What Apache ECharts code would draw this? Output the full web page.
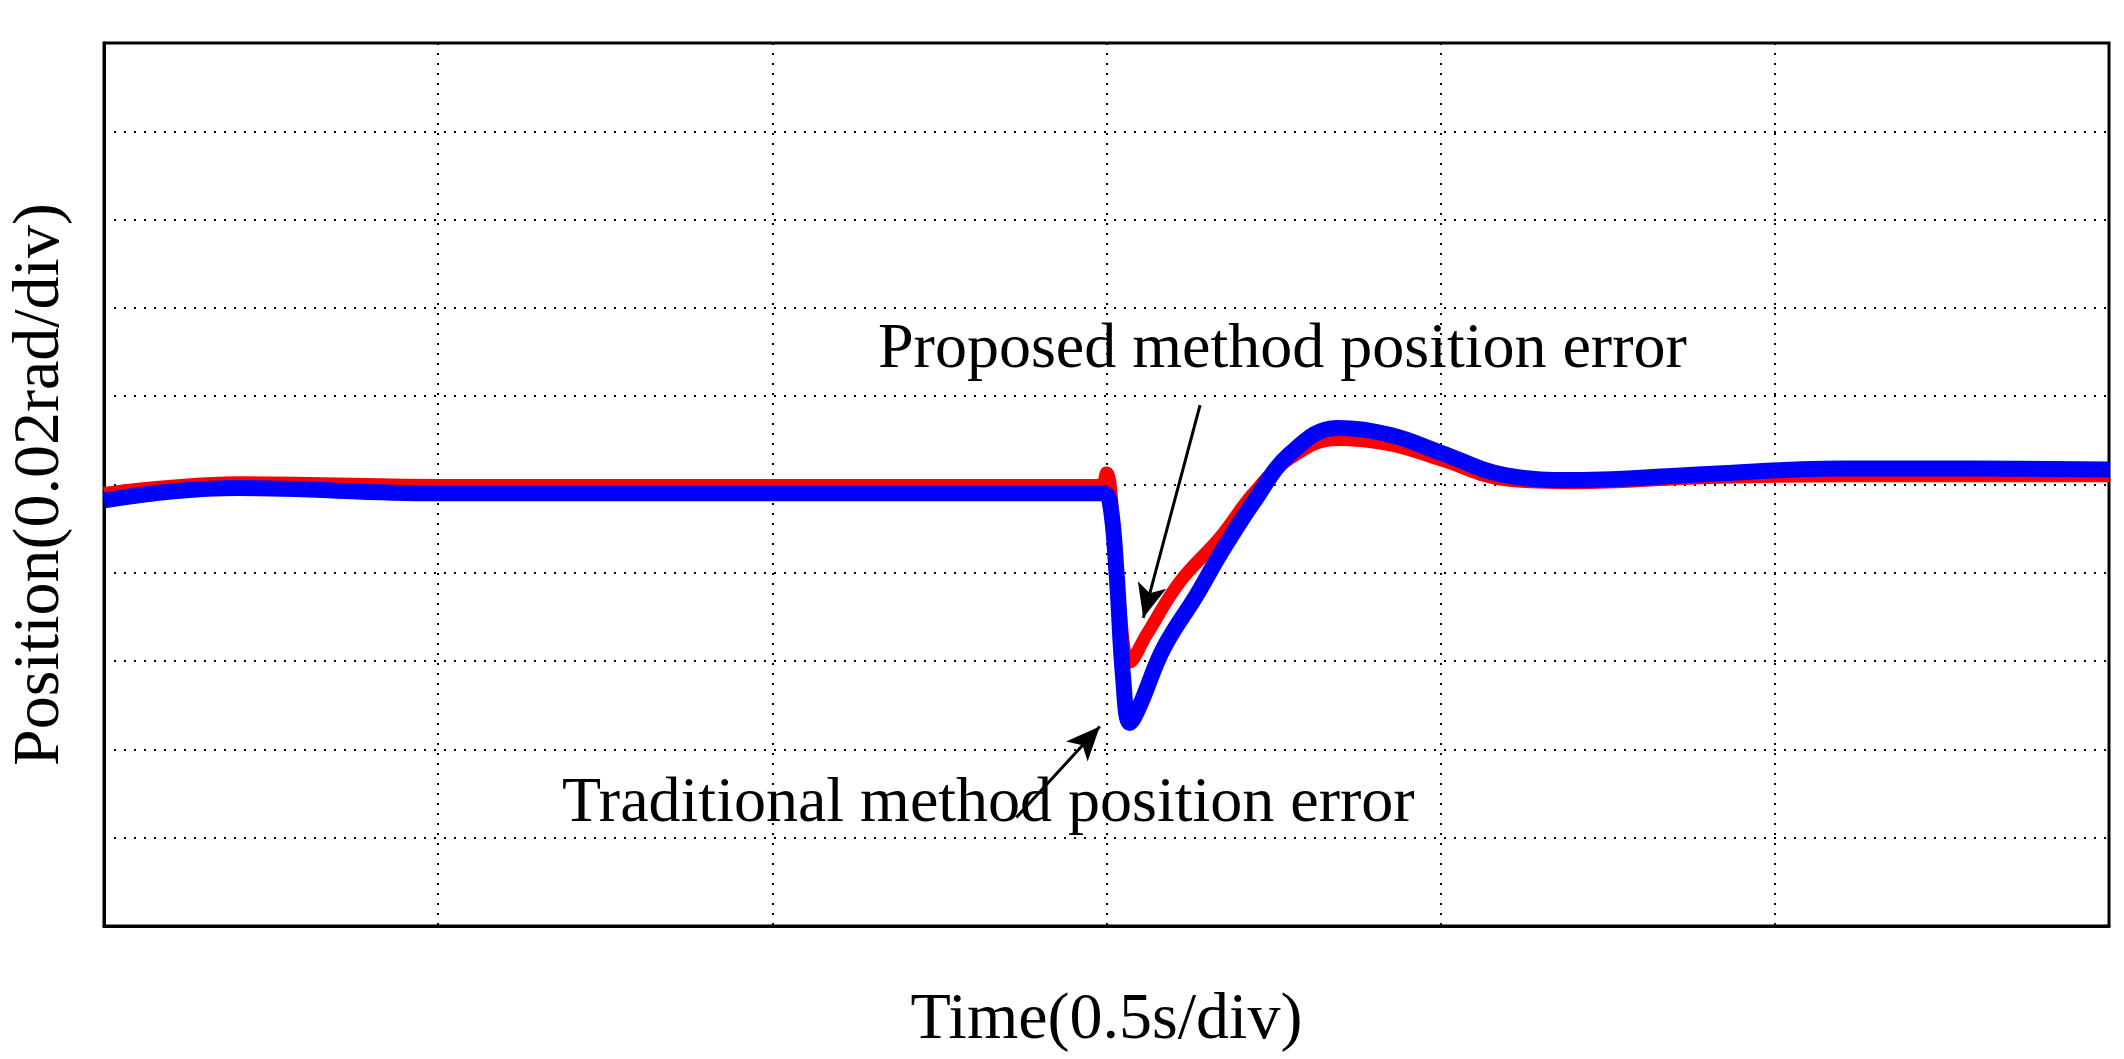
<!DOCTYPE html>
<html>
<head>
<meta charset="utf-8">
<script src="https://cdn.jsdelivr.net/npm/echarts@6/dist/echarts.min.js"></script>
<style>html,body{margin:0;padding:0;background:#fff}#main{width:2124px;height:1059px}</style>
</head>
<body>
<div id="main"></div>
<script>
// x in time divisions (0.5 s/div), y in position divisions (0.02 rad/div)
var redX = [0, 0.2, 0.4, 1.0, 2.0, 2.98, 3.0, 3.02, 3.04, 3.07, 3.12, 3.22, 3.34, 3.44, 3.55, 3.69, 3.85, 4.0, 4.2, 4.4, 4.8, 5.2, 5.6, 6.0];
var redY = [4.9, 4.98, 5.02, 4.99, 4.99, 4.99, 5.13, 4.6, 3.6, 2.99, 3.3, 3.9, 4.4, 4.9, 5.3, 5.51, 5.45, 5.28, 5.05, 5.02, 5.08, 5.1, 5.1, 5.1];
var blueX = [0, 0.2, 0.4, 1.0, 2.0, 2.99, 3.01, 3.03, 3.05, 3.07, 3.1, 3.17, 3.27, 3.34, 3.44, 3.55, 3.69, 3.85, 4.0, 4.2, 4.4, 4.8, 5.2, 5.6, 6.0];
var blueY = [4.82, 4.92, 4.96, 4.9, 4.9, 4.9, 4.8, 4.0, 2.8, 2.3, 2.5, 3.14, 3.75, 4.21, 4.8, 5.35, 5.64, 5.56, 5.36, 5.1, 5.05, 5.12, 5.18, 5.18, 5.17];
var proposedArrow = [[3.28, 5.9], [3.11, 3.49]];
var traditionalArrow = [[2.73, 1.23], [2.98, 2.26]];

function pairs(xs, ys) { return xs.map(function (x, i) { return [x, ys[i]]; }); }

var chart = echarts.init(document.getElementById('main'));
var font = '"Liberation Serif", "Times New Roman", serif';
var axisCommon = {
  type: 'value', axisTick: {show: false}, axisLabel: {show: false},
  axisLine: {show: true, lineStyle: {color: '#000', width: 3}},
  splitLine: {show: true, lineStyle: {color: '#000', type: [2, 8], width: 2}},
  nameLocation: 'middle',
  nameTextStyle: {fontFamily: font, fontSize: 66, color: '#000'}
};
function arrow(c) {
  return {
    silent: true, symbol: ['none', 'arrow'], symbolSize: [22, 34],
    lineStyle: {color: '#000', width: 3, type: 'solid'}, label: {show: false},
    data: [[{coord: c[0]}, {coord: c[1]}]]
  };
}
chart.setOption({
  animation: false,
  grid: {left: 102, right: 15, top: 43, bottom: 131, show: true, borderColor: '#000', borderWidth: 3},
  xAxis: Object.assign({}, axisCommon, {min: 0, max: 6, interval: 1, name: 'Time(0.5s/div)', nameGap: 62}),
  yAxis: Object.assign({}, axisCommon, {min: 0, max: 10, interval: 1, name: 'Position(0.02rad/div)', nameGap: 30}),
  series: [
    {type: 'line', data: pairs(redX, redY), smooth: 0.4, showSymbol: false,
     lineStyle: {color: '#ff0000', width: 13}, markLine: arrow(proposedArrow)},
    {type: 'line', data: pairs(blueX, blueY), smooth: 0.4, showSymbol: false,
     lineStyle: {color: '#0000ff', width: 16}, markLine: arrow(traditionalArrow), z: 3}
  ],
  graphic: [
    {type: 'text', left: 878, top: 318, style: {text: 'Proposed method position error', font: '64px ' + font, fill: '#000'}},
    {type: 'text', left: 562, top: 772, style: {text: 'Traditional method position error', font: '64px ' + font, fill: '#000'}}
  ]
});
</script>
</body>
</html>
